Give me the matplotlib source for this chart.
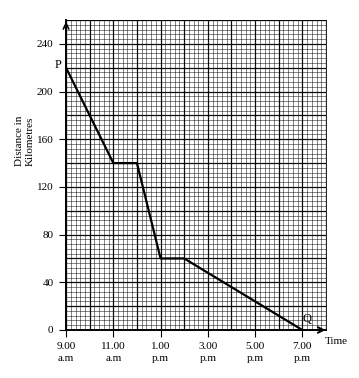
import matplotlib.pyplot as plt
import numpy as np
from matplotlib.ticker import MultipleLocator

plt.rcParams['font.family'] = ['Liberation Serif', 'DejaVu Serif']

# journey (time in hours on 24h clock, distance in km)
times = [9, 11, 12, 13, 14, 19]
dist = [220, 140, 140, 60, 60, 0]

yticks = [0, 40, 80, 120, 160, 200, 240]
xticks = [9, 11, 13, 15, 17, 19]
xlabels = ["9.00\na.m", "11.00\na.m", "1.00\np.m", "3.00\np.m", "5.00\np.m", "7.00\np.m"]

fig = plt.figure(figsize=(3.59, 3.78), dpi=100)
ax = fig.add_axes([0.184, 0.127, 0.724, 0.820])

ax.set_xlim(9, 20)
ax.set_ylim(0, 260)

# graph paper
for v in np.arange(9, 20.01, 0.2):
    major = abs(v - round(v)) < 1e-6
    ax.axvline(v, color='black', lw=0.9 if major else 0.45, alpha=0.95 if major else 0.75, zorder=0)
for v in np.arange(0, 260.01, 4):
    major = abs(v % 20) < 1e-6
    ax.axhline(v, color='black', lw=0.9 if major else 0.45, alpha=0.95 if major else 0.75, zorder=0)

ax.plot(times, dist, color='black', lw=1.6, zorder=3)

ax.set_xticks(xticks)
ax.set_xticklabels(xlabels, fontsize=8, linespacing=1.3)
ax.set_yticks(yticks)
ax.set_yticklabels([str(t) for t in yticks], fontsize=8)
ax.tick_params(which='major', direction='out', length=5, width=0.8, pad=4)
ax.tick_params(which='minor', length=0)

for s in ['top', 'right']:
    ax.spines[s].set_linewidth(0.6)
for s in ['left', 'bottom']:
    ax.spines[s].set_linewidth(1.4)

# axis arrows
ax.annotate('', xy=(20.1, 0), xytext=(18.6, 0),
            arrowprops=dict(arrowstyle='->', lw=1.4, color='black'), annotation_clip=False, zorder=5)
ax.annotate('', xy=(9, 261), xytext=(9, 245),
            arrowprops=dict(arrowstyle='->', lw=1.2, color='black'), annotation_clip=False, zorder=5)

ax.text(8.8, 222, 'P', fontsize=9, ha='right', va='center')
ax.text(19.0, 4, 'Q', fontsize=9, ha='left', va='bottom')
ax.text(19.95, -10, 'Time', fontsize=8, ha='left', va='center', clip_on=False)

ax.set_ylabel('Distance in\nKilometres', fontsize=8, linespacing=1.2)
ax.yaxis.set_label_coords(-0.12, 0.61)

fig.savefig('out.png', dpi=100)
